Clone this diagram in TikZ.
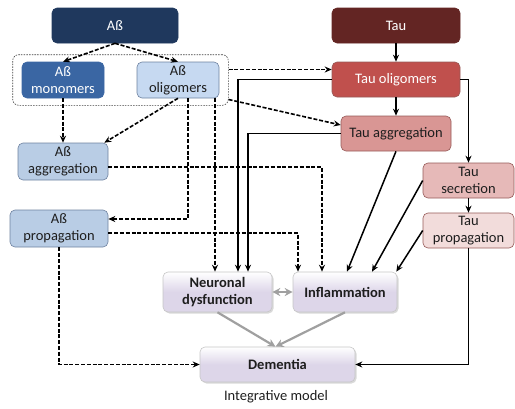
\documentclass[tikz,border=0pt]{standalone}
\usepackage{fontspec}
\setmainfont{Carlito}
\usepackage{tikz}
\usetikzlibrary{arrows.meta,fit,shadows}
\definecolor{abdark}{RGB}{31,56,93}
\definecolor{abmid}{RGB}{58,102,163}
\definecolor{ablight}{RGB}{198,217,241}
\definecolor{abpale}{RGB}{185,205,229}
\definecolor{abedge}{RGB}{110,130,160}
\definecolor{taudark}{RGB}{99,37,35}
\definecolor{tauolig}{RGB}{192,80,77}
\definecolor{tauaggr}{RGB}{217,150,148}
\definecolor{tausecr}{RGB}{230,185,184}
\definecolor{tauprop}{RGB}{242,220,219}
\definecolor{tauedge}{RGB}{150,90,88}
\definecolor{outcome}{RGB}{221,214,233}
\definecolor{textdark}{RGB}{30,30,30}
\definecolor{linegray}{RGB}{160,160,160}

\begin{document}
\begin{tikzpicture}[x=1pt, y=-1pt,
    every node/.style={font=\fontsize{14.5}{17}\selectfont, align=center, text=textdark},
    box/.style={rounded corners=5pt, inner sep=2pt, line width=0.6pt},
    abbox/.style={box, draw=abedge, fill=abpale},
    taubox/.style={box, draw=tauedge},
    outbox/.style={box, draw=gray!45, top color=white, bottom color=outcome,
      middle color=outcome, font=\fontsize{14.5}{17}\selectfont\bfseries,
      drop shadow={shadow xshift=1.5pt, shadow yshift=-1.5pt, opacity=0.3}},
    groupbox/.style={draw=black!75, rounded corners=6pt, line width=0.6pt,
      dash pattern=on 1.5pt off 1.2pt, inner xsep=9pt, inner ysep=7pt},
    dasharrow/.style={-{Stealth[length=7pt,width=6pt]}, line width=1.6pt,
      dash pattern=on 4pt off 1.8pt},
    solidarrow/.style={-{Stealth[length=7pt,width=6pt]}, line width=1.5pt},
    grayarrow/.style={-{Stealth[length=8pt,width=8pt]}, line width=2.2pt, draw=linegray}]
  \useasboundingbox (0,0) rectangle (515,408);

  % --- Abeta side ---
  \node[abbox, fill=abdark, draw=abdark, text=white, minimum width=126pt, minimum height=35pt]
    (ab) at (115,25.5) {Aß};
  \node[abbox, fill=abmid, draw=abmid, text=white, minimum width=82pt, minimum height=36pt]
    (abmono) at (63,80) {Aß\\monomers};
  \node[abbox, fill=ablight, minimum width=82pt, minimum height=36pt]
    (aboligo) at (178,80) {Aß\\oligomers};
  \node[abbox, minimum width=90pt, minimum height=37pt] (abagg) at (63,161.5) {Aß\\aggregation};
  \node[abbox, minimum width=98pt, minimum height=37pt] (abprop) at (59,228.5) {Aß\\propagation};
  \node[groupbox, fit=(abmono)(aboligo)] (abgroup) {};

  % --- Tau side ---
  \node[taubox, fill=taudark, draw=taudark, text=white, minimum width=128pt, minimum height=35pt]
    (tau) at (396,25.5) {Tau};
  \node[taubox, fill=tauolig, text=white, minimum width=128pt, minimum height=35pt]
    (tauoligo) at (396,79.5) {Tau oligomers};
  \node[taubox, fill=tauaggr, minimum width=110pt, minimum height=35pt]
    (tauagg) at (396,133.5) {Tau aggregation};
  \node[taubox, fill=tausecr, minimum width=91pt, minimum height=35pt]
    (tausec) at (468.5,180.5) {Tau\\secretion};
  \node[taubox, fill=tauprop, minimum width=91pt, minimum height=35pt]
    (tauprop) at (468.5,230.5) {Tau\\propagation};

  % --- Outcomes ---
  \node[outbox, minimum width=109pt, minimum height=40pt] (neuro) at (217.5,292) {Neuronal\\dysfunction};
  \node[outbox, minimum width=104pt, minimum height=40pt] (inflam) at (345,292) {Inflammation};
  \node[outbox, minimum width=155pt, minimum height=35pt] (dementia) at (277.5,364.5) {Dementia};
  \node (caption) at (276,397) {Integrative model};

  % Abeta arrows (dashed)
  \draw[dasharrow] (ab.south) -- (abmono.north);
  \draw[dasharrow] (ab.south) -- (aboligo.north);
  \draw[dasharrow] (abmono.south) -- (abagg.north);
  \draw[dasharrow] (aboligo.south) -- ([xshift=-4pt]abagg.north east);
  \draw[dasharrow] ([xshift=10pt]aboligo.south) |- ([yshift=9.5pt]abprop.east);
  \draw[dasharrow] ([xshift=37pt]aboligo.south) -- ([xshift=37pt]aboligo.south |- neuro.north);
  \draw[dasharrow] ([yshift=10pt]abgroup.east |- tauoligo.west) -- ([yshift=10pt]tauoligo.west);
  \draw[dasharrow] ([yshift=-19.5pt]abgroup.east) -- ([yshift=8.5pt]tauagg.west);
  \draw[dasharrow] ([yshift=-5.5pt]abagg.east) -| ([xshift=-23pt]inflam.north);
  \draw[dasharrow] ([yshift=-4.5pt]abprop.east) -| ([xshift=-47pt]inflam.north);
  \draw[dasharrow] (abprop.south) |- (dementia.west);

  % Tau arrows (solid)
  \draw[solidarrow] (tau.south) -- (tauoligo.north);
  \draw[solidarrow] (tauoligo.south) -- (tauagg.north);
  \draw[solidarrow] (tauoligo.east) -| (tausec.north);
  \draw[solidarrow] (tausec.south) -- (tauprop.north);
  \draw[solidarrow] (tauoligo.west) -| ([xshift=20.5pt]neuro.north);
  \draw[solidarrow] (tauagg.west) -| ([xshift=30.5pt]neuro.north);
  \draw[solidarrow] (tauagg.south) -- ([xshift=2pt]inflam.north);
  \draw[solidarrow] (tausec.west) -- ([xshift=27pt]inflam.north);
  \draw[solidarrow] (tauprop.west) -- ([xshift=-1pt]inflam.north east);
  \draw[solidarrow] (tauprop.south) |- (dementia.east);

  % Outcome arrows (gray)
  \draw[grayarrow, {Stealth[length=8pt,width=8pt]}-{Stealth[length=8pt,width=8pt]}]
    (neuro.east) -- (inflam.west);
  \draw[grayarrow] (neuro.south) -- ([xshift=-2pt]dementia.north);
  \draw[grayarrow] (inflam.south) -- ([xshift=-2pt]dementia.north);
\end{tikzpicture}
\end{document}
